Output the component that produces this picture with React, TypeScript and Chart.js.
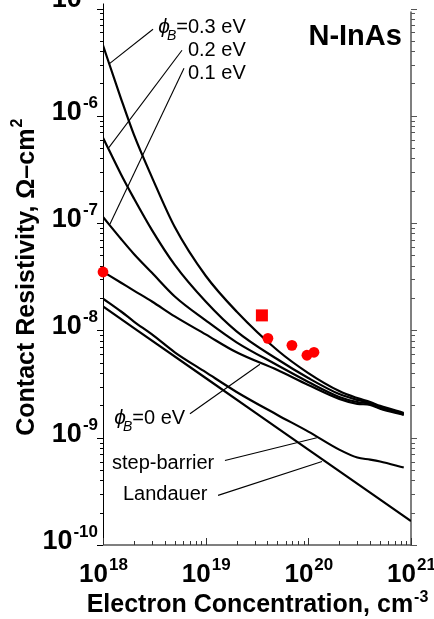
import React, { useEffect, useRef } from "react";
import { Chart, registerables } from "chart.js";

Chart.register(...registerables);

// ---- data ----
const concentration = [1e18, 1.5e18, 2e18, 3e18, 5e18, 1e19, 2e19, 5e19, 1e20, 2e20, 3e20, 4e20, 5e20, 8.5e20];
const phi03 = [4.54e-6, 1.44e-6, 6.67e-7, 2.67e-7, 9.18e-8, 3.23e-8, 1.5e-8, 6.53e-9, 4.0e-9, 2.72e-9, 2.34e-9, 2.15e-9, 1.98e-9, 1.7e-9];
const phi02 = [6.25e-7, 2.84e-7, 1.7e-7, 8.61e-8, 4.08e-8, 1.86e-8, 9.8e-9, 5.38e-9, 3.6e-9, 2.55e-9, 2.25e-9, 2.11e-9, 1.94e-9, 1.67e-9];
const phi01 = [1.14e-7, 7.11e-8, 5.16e-8, 3.44e-8, 2.07e-8, 1.24e-8, 7.74e-9, 4.74e-9, 3.31e-9, 2.4e-9, 2.15e-9, 2.07e-9, 1.9e-9, 1.65e-9];
const phi00 = [3.52e-8, 2.78e-8, 2.35e-8, 1.86e-8, 1.35e-8, 9.18e-9, 6.25e-9, 4.27e-9, 3.1e-9, 2.3e-9, 2.07e-9, 2.02e-9, 1.86e-9, 1.63e-9];
const stepBarrier = [1.98e-8, 1.5e-8, 1.21e-8, 9.18e-9, 6.25e-9, 4.08e-9, 2.67e-9, 1.63e-9, 1.14e-9, 7.74e-10, 6.53e-10, 6.25e-10, 6.0e-10, 5.27e-10];
const landauerN = [1e18, 1e19, 1e20, 1e21];
const landauer = [1.67e-8, 3.6e-9, 7.75e-10, 1.67e-10];

const expCircleN = [1e18, 4.04e19, 6.92e19, 9.69e19, 1.135e20];
const expCircleRho = [3.5e-8, 8.43e-9, 7.26e-9, 5.87e-9, 6.25e-9];
const expSquareN = [3.53e19];
const expSquareRho = [1.38e-8];

const xTickExps = [18, 19, 20, 21];
const yTickExps = [-10, -9, -8, -7, -6, -5];

const xTitle = "Electron Concentration, cm";
const xTitleSup = "-3";
const yTitle = "Contact Resistivity, \u03A9\u2013cm";
const yTitleSup = "2";
const panelLabel = "N-InAs";

// annotation labels (data coordinates)
const barrierLabels = [
  { text: "0.3 eV", n: 6.72e18, rho: 5.87e-6, phi: true },
  { text: "0.2 eV", n: 6.72e18, rho: 3.59e-6, phi: false },
  { text: "0.1 eV", n: 6.72e18, rho: 2.2e-6, phi: false },
  { text: "0 eV", n: 2.51e18, rho: 1.348e-9, phi: true },
];
const plainLabels = [
  { text: "step-barrier", n: 1.224e18, rho: 5.16e-10 },
  { text: "Landauer", n: 1.566e18, rho: 2.61e-10 },
];
const leaderLines = [
  [3.07e18, 6.4e-6, 1.14e18, 3.03e-6],
  [5.88e18, 4.08e-6, 1.14e18, 5.06e-7],
  [6.15e18, 2.78e-6, 1.17e18, 9.8e-8],
  [7.03e18, 1.67e-9, 3.38e19, 4.84e-9],
  [1.54e19, 6.12e-10, 1.21e20, 1.0e-9],
  [1.32e19, 2.9e-10, 1.36e20, 6.0e-10],
];

const FF = '"Liberation Sans", Arial, Helvetica, sans-serif';

function supText(
  ctx: CanvasRenderingContext2D,
  base: string,
  exp: string,
  x: number,
  y: number,
  baseFont: string,
  expFont: string,
  rise: number,
  align: "left" | "center" | "right"
) {
  ctx.font = baseFont;
  const wb = ctx.measureText(base).width;
  ctx.font = expFont;
  const we = ctx.measureText(exp).width;
  let x0 = x;
  if (align === "right") x0 = x - wb - we;
  else if (align === "center") x0 = x - (wb + we) / 2;
  ctx.textAlign = "left";
  ctx.textBaseline = "alphabetic";
  ctx.font = baseFont;
  ctx.fillText(base, x0, y);
  ctx.font = expFont;
  ctx.fillText(exp, x0 + wb + 1, y - rise);
}

const axesPlugin = {
  id: "customAxes",
  beforeDatasetsDraw(chart: any) {
    const ctx: CanvasRenderingContext2D = chart.ctx;
    const { left, right, top, bottom } = chart.chartArea;
    const xs = chart.scales.x;
    const ys = chart.scales.y;
    ctx.save();
    // left axis
    ctx.strokeStyle = "#000";
    ctx.lineWidth = 1;
    ctx.beginPath();
    ctx.moveTo(left + 0.5, top - 5);
    ctx.lineTo(left + 0.5, bottom);
    ctx.stroke();
    // right axis
    ctx.strokeStyle = "#7f7f7f";
    ctx.lineWidth = 2;
    ctx.beginPath();
    ctx.moveTo(right, top + 3);
    ctx.lineTo(right, bottom + 1);
    ctx.stroke();
    // bottom axis
    ctx.strokeStyle = "#555";
    ctx.lineWidth = 1.5;
    ctx.beginPath();
    ctx.moveTo(left, bottom);
    ctx.lineTo(right + 1, bottom);
    ctx.stroke();

    // y ticks
    for (let e = -10; e <= -5; e++) {
      for (let m = 1; m <= 9; m++) {
        const v = m * Math.pow(10, e);
        if (v > 1e-5 * 1.0001) continue;
        const y = Math.round(ys.getPixelForValue(v)) + 0.5;
        const major = m === 1;
        ctx.strokeStyle = "#000";
        ctx.lineWidth = 1;
        ctx.beginPath();
        ctx.moveTo(left, y);
        ctx.lineTo(left - (major ? 6 : 3), y);
        ctx.stroke();
        ctx.strokeStyle = "#555";
        ctx.beginPath();
        ctx.moveTo(right, y);
        ctx.lineTo(right + (major ? 6 : 4), y);
        ctx.stroke();
      }
    }
    // x ticks (inward)
    for (let e = 18; e <= 21; e++) {
      for (let m = 1; m <= 9; m++) {
        const v = m * Math.pow(10, e);
        if (v > 1e21 * 1.0001) continue;
        const x = Math.round(xs.getPixelForValue(v)) + 0.5;
        const major = m === 1;
        ctx.strokeStyle = "#333";
        ctx.lineWidth = 1;
        ctx.beginPath();
        ctx.moveTo(x, bottom);
        ctx.lineTo(x, bottom - (major ? 7 : 4));
        ctx.stroke();
      }
    }

    ctx.fillStyle = "#000";
    // y tick labels
    yTickExps.forEach((e) => {
      const y = ys.getPixelForValue(Math.pow(10, e));
      const off = e === -5 ? -2 : 4;
      supText(ctx, "10", String(e), left - 6, y + off, `bold 27px ${FF}`, `bold 17px ${FF}`, 12, "right");
    });
    // x tick labels
    xTickExps.forEach((e) => {
      const x = xs.getPixelForValue(Math.pow(10, e));
      supText(ctx, "10", String(e), x, bottom + 37, `bold 26px ${FF}`, `bold 17px ${FF}`, 12, "center");
    });
    // axis titles
    supText(ctx, xTitle, xTitleSup, (left + right) / 2, bottom + 67, `bold 25px ${FF}`, `bold 16px ${FF}`, 10, "center");
    ctx.save();
    ctx.translate(34, (top + bottom) / 2 + 1);
    ctx.rotate(-Math.PI / 2);
    supText(ctx, yTitle, yTitleSup, 0, 0, `bold 25px ${FF}`, `bold 16px ${FF}`, 12, "center");
    ctx.restore();
    ctx.restore();
  },
  afterDatasetsDraw(chart: any) {
    const ctx: CanvasRenderingContext2D = chart.ctx;
    const xs = chart.scales.x;
    const ys = chart.scales.y;
    ctx.save();
    // leader lines
    ctx.strokeStyle = "#000";
    ctx.lineWidth = 1.1;
    leaderLines.forEach(([n1, r1, n2, r2]) => {
      ctx.beginPath();
      ctx.moveTo(xs.getPixelForValue(n1), ys.getPixelForValue(r1));
      ctx.lineTo(xs.getPixelForValue(n2), ys.getPixelForValue(r2));
      ctx.stroke();
    });
    ctx.fillStyle = "#000";
    ctx.textBaseline = "alphabetic";
    // barrier labels
    barrierLabels.forEach((l) => {
      const x = xs.getPixelForValue(l.n);
      const y = ys.getPixelForValue(l.rho);
      ctx.font = `20px ${FF}`;
      ctx.textAlign = "left";
      ctx.fillText(l.text, x, y);
      if (l.phi) {
        ctx.textAlign = "right";
        ctx.fillText("=", x, y);
        const wEq = ctx.measureText("=").width;
        ctx.font = `italic 14px ${FF}`;
        const xb = x - wEq;
        ctx.fillText("B", xb, y + 7);
        const wB = ctx.measureText("B").width;
        ctx.font = `italic 21px ${FF}`;
        ctx.fillText("\u03D5", xb - wB + 3, y);
      }
    });
    ctx.font = `20px ${FF}`;
    ctx.textAlign = "left";
    plainLabels.forEach((l) => {
      ctx.fillText(l.text, xs.getPixelForValue(l.n), ys.getPixelForValue(l.rho));
    });
    // panel label
    ctx.font = `bold 29px ${FF}`;
    ctx.textAlign = "right";
    ctx.fillText(panelLabel, xs.getPixelForValue(8.155e20), ys.getPixelForValue(4.54e-6));
    ctx.restore();
  },
};

function toXY(xsArr: number[], ysArr: number[]) {
  return xsArr.map((x, i) => ({ x, y: ysArr[i] }));
}

export default function App() {
  const canvasRef = useRef<HTMLCanvasElement | null>(null);

  useEffect(() => {
    const canvas = canvasRef.current;
    if (!canvas) return;
    const lineDs = (data: number[], xsArr: number[] = concentration) => ({
      type: "scatter" as const,
      data: toXY(xsArr, data),
      showLine: true,
      borderColor: "#000",
      borderWidth: 2.2,
      pointRadius: 0,
      cubicInterpolationMode: "monotone" as const,
      order: 2,
    });
    const chart = new Chart(canvas, {
      type: "scatter",
      data: {
        datasets: [
          {
            data: toXY(expCircleN, expCircleRho),
            pointStyle: "circle",
            pointRadius: 5.4,
            pointBackgroundColor: "#ff0000",
            pointBorderWidth: 0,
            showLine: false,
            clip: false,
            order: 0,
          } as any,
          {
            data: toXY(expSquareN, expSquareRho),
            pointStyle: "rect",
            pointRadius: 8.5,
            pointBackgroundColor: "#ff0000",
            pointBorderWidth: 0,
            showLine: false,
            clip: false,
            order: 0,
          } as any,
          lineDs(phi03),
          lineDs(phi02),
          lineDs(phi01),
          lineDs(phi00),
          lineDs(stepBarrier),
          lineDs(landauer, landauerN),
        ],
      },
      options: {
        responsive: false,
        animation: false,
        devicePixelRatio: 1,
        layout: { padding: { left: 103, right: 23, top: 5, bottom: 74 } },
        plugins: {
          legend: { display: false },
          tooltip: { enabled: false },
        },
        scales: {
          x: { type: "logarithmic", min: 1e18, max: 1e21, display: false },
          y: { type: "logarithmic", min: 1e-10, max: 1e-5, display: false },
        },
      },
      plugins: [axesPlugin],
    });
    return () => chart.destroy();
  }, []);

  return (
    <canvas
      ref={canvasRef}
      width={434}
      height={619}
      style={{ position: "absolute", left: 0, top: 0, width: 434, height: 619 }}
    />
  );
}
